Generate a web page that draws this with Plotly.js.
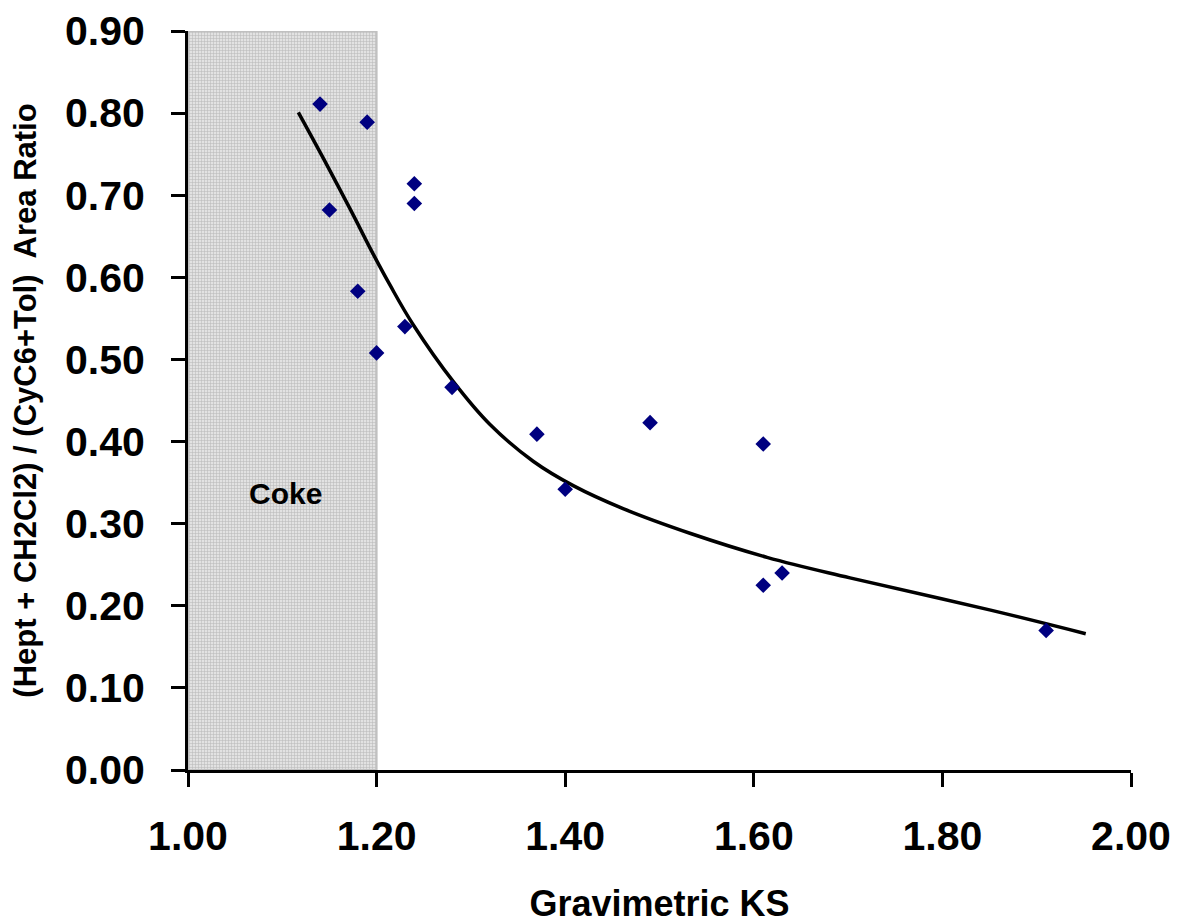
<!DOCTYPE html>
<html>
<head>
<meta charset="utf-8">
<script src="https://cdn.plot.ly/plotly-3.0.1.min.js"></script>
<style>html,body{margin:0;padding:0;background:#fff;}#chart{width:1181px;height:924px;}</style>
</head>
<body>
<div id="chart"></div>
<script>
// Measured data points
var ksValues = [1.14, 1.19, 1.15, 1.24, 1.24, 1.18, 1.23, 1.20, 1.28, 1.37, 1.40, 1.49, 1.61, 1.61, 1.63, 1.91];
var ratioValues = [0.811, 0.789, 0.682, 0.714, 0.690, 0.583, 0.540, 0.508, 0.466, 0.409, 0.342, 0.423, 0.397, 0.225, 0.240, 0.170];
// Trend curve
var curveX = [1.117, 1.144, 1.172, 1.197, 1.214, 1.239, 1.282, 1.320, 1.366, 1.409, 1.462, 1.533, 1.614, 1.702, 1.85, 1.952];
var curveY = [0.801, 0.744, 0.683, 0.627, 0.591, 0.542, 0.472, 0.421, 0.376, 0.346, 0.318, 0.288, 0.259, 0.234, 0.195, 0.166];
// Coke region
var cokeRange = [1.00, 1.20];
var cokeTop = 0.90;
var cokeLabel = "Coke";
var cokeLabelPos = [1.103, 0.337];

var xTitle = "Gravimetric KS";
var yTitle = "(Hept + CH2Cl2) / (CyC6+Tol)&nbsp; Area Ratio";

var font = "Liberation Sans, Arial, sans-serif";

var traces = [
  {
    type: "bar",
    x: [(cokeRange[0] + cokeRange[1]) / 2],
    y: [cokeTop],
    width: [cokeRange[1] - cokeRange[0]],
    marker: {
      color: "#dcdcdc",
      line: {color: "#c0c0c0", width: 2},
      pattern: {shape: "+", size: 3, fgcolor: "#bcbcbc", bgcolor: "#e2e2e2", solidity: 0.35}
    },
    hoverinfo: "skip",
    showlegend: false
  },
  {
    type: "scatter",
    mode: "lines",
    x: curveX,
    y: curveY,
    line: {color: "#000000", width: 3.5, shape: "spline", smoothing: 1.1},
    showlegend: false
  },
  {
    type: "scatter",
    mode: "markers",
    x: ksValues,
    y: ratioValues,
    marker: {symbol: "diamond", size: 12, color: "#000080", line: {width: 0}},
    showlegend: false
  }
];

var layout = {
  width: 1181,
  height: 924,
  margin: {l: 188, r: 50, t: 31, b: 154},
  paper_bgcolor: "#ffffff",
  plot_bgcolor: "#ffffff",
  showlegend: false,
  bargap: 0,
  font: {family: font, color: "#000"},
  xaxis: {
    range: [1.0, 2.0],
    dtick: 0.2,
    tick0: 1.0,
    tickformat: ".2f",
    showgrid: false,
    zeroline: false,
    showline: true,
    linecolor: "#000",
    linewidth: 3,
    ticks: "outside",
    ticklen: 14,
    tickwidth: 3,
    tickcolor: "#000",
    ticklabelstandoff: 14,
    tickfont: {family: font, size: 41, color: "#000", weight: "bold"},
    title: {text: "<b>" + xTitle + "</b>", font: {family: font, size: 36, color: "#000"}, standoff: 39},
    automargin: false
  },
  yaxis: {
    range: [0, 0.9],
    dtick: 0.1,
    tick0: 0,
    tickformat: ".2f",
    showgrid: false,
    zeroline: false,
    showline: true,
    linecolor: "#000",
    linewidth: 3,
    ticks: "outside",
    ticklen: 14,
    tickwidth: 3,
    tickcolor: "#000",
    ticklabelstandoff: 18,
    tickfont: {family: font, size: 41, color: "#000", weight: "bold"},
    title: {text: "<b>" + yTitle + "</b>", font: {family: font, size: 31, color: "#000"}, standoff: 20},
    automargin: false
  },
  annotations: [
    {
      x: cokeLabelPos[0], y: cokeLabelPos[1], xref: "x", yref: "y",
      text: "<b>" + cokeLabel + "</b>", showarrow: false,
      font: {family: font, size: 30, color: "#000"}
    }
  ]
};

Plotly.newPlot("chart", traces, layout, {displayModeBar: false, staticPlot: true});
</script>
</body>
</html>
